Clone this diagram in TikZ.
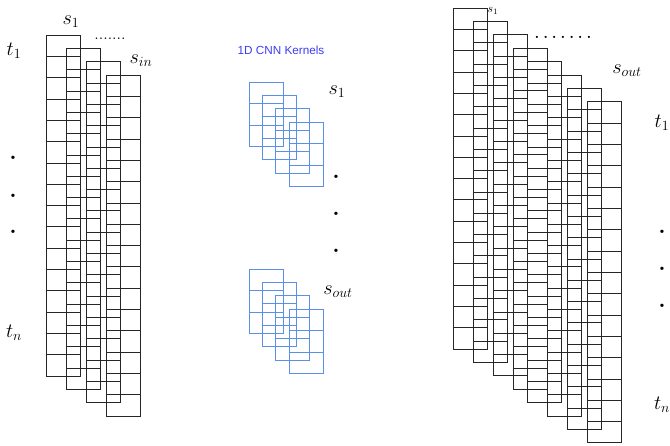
\documentclass[tikz,border=0pt]{standalone}
\usepackage{fontspec}
\setsansfont{Liberation Sans}
\usetikzlibrary{positioning}
\definecolor{ckernel}{HTML}{5A8FEA}
\definecolor{ctitle}{HTML}{3C3CF0}
\tikzset{
  every picture/.style={x=0.03cm, y=-0.03cm},
  column/.style={draw=black!85, line width=0.6pt},
  kernel/.style={draw=ckernel, line width=0.8pt},
  sym/.style={font=\fontsize{18}{20}\selectfont, inner sep=0pt},
  small sym/.style={font=\fontsize{10}{12}\selectfont, inner sep=0pt},
  vdot/.style={font=\bfseries\fontsize{20}{22}\selectfont, inner sep=0pt},
  title/.style={font=\sffamily\fontsize{10}{12}\selectfont, text=ctitle, inner sep=0pt},
}
\begin{document}
\begin{tikzpicture}
  \useasboundingbox (0,0) rectangle (670,445);
  % input channels, n time steps each
  \foreach \i in {0,...,3} {
    \pgfmathsetmacro{\xa}{46+20*\i}
    \pgfmathsetmacro{\ya}{35+13.33*\i}
    \draw[column] (\xa,\ya) rectangle ++(34,341);
    \foreach \r in {1,...,15}
      \draw[column] (\xa,\ya+\r*21.3125) -- ++(34,0);
  }
  \node[sym] (s1in) at (71,22) {$s_1$};
  \node[sym, font=\fontsize{14}{16}\selectfont, anchor=base] (dotsin) at (110,39) {.......};
  \node[sym] (sin) at (141,61) {$s_{in}$};
  \node[sym] (t1in) at (14,51) {$t_1$};
  \foreach \y [count=\k] in {158,196,232}
    \node[vdot] (vin\k) at (13,\y) {.};
  \node[sym] (tnin) at (14,333) {$t_n$};
  % kernels, one group per output channel
  \node[title] (ttl) at (281,50) {1D CNN Kernels};
  \foreach \ytop in {82,269} {
    \foreach \i in {0,...,3} {
      \pgfmathsetmacro{\xa}{249+13.33*\i}
      \pgfmathsetmacro{\ya}{\ytop+13.33*\i}
      \draw[kernel] (\xa,\ya) rectangle ++(34,64.5);
      \draw[kernel] (\xa,\ya+21.5) -- ++(34,0);
      \draw[kernel] (\xa,\ya+43) -- ++(34,0);
    }
  }
  \node[sym] (s1k) at (337,92) {$s_1$};
  \foreach \y [count=\k] in {177,214,251}
    \node[vdot] (vk\k) at (336,\y) {.};
  \node[sym] (soutk) at (338,292) {$s_{out}$};
  % output channels
  \foreach \xa [count=\i from 0] in {453,473,493,513,527,547,567,587} {
    \pgfmathsetmacro{\ya}{8+13.4*\i}
    \draw[column] (\xa,\ya) rectangle ++(34,341);
    \foreach \r in {1,...,15}
      \draw[column] (\xa,\ya+\r*21.3125) -- ++(34,0);
  }
  \node[small sym] (s1out) at (493,11) {$s_1$};
  \node[anchor=base, inner sep=0pt, font=\bfseries\fontsize{13}{15}\selectfont] (dotsout) at (563,38)
    {.\kern3.3pt.\kern3.3pt.\kern3.3pt.\kern3.3pt.\kern3.3pt.\kern3.3pt.};
  \node[sym] (soutout) at (627,71) {$s_{out}$};
  \node[sym] (t1out) at (662,123) {$t_1$};
  \foreach \y [count=\k] in {232,269,306}
    \node[vdot] (vout\k) at (662,\y) {.};
  \node[sym] (tnout) at (662,405) {$t_n$};
\end{tikzpicture}
\end{document}
